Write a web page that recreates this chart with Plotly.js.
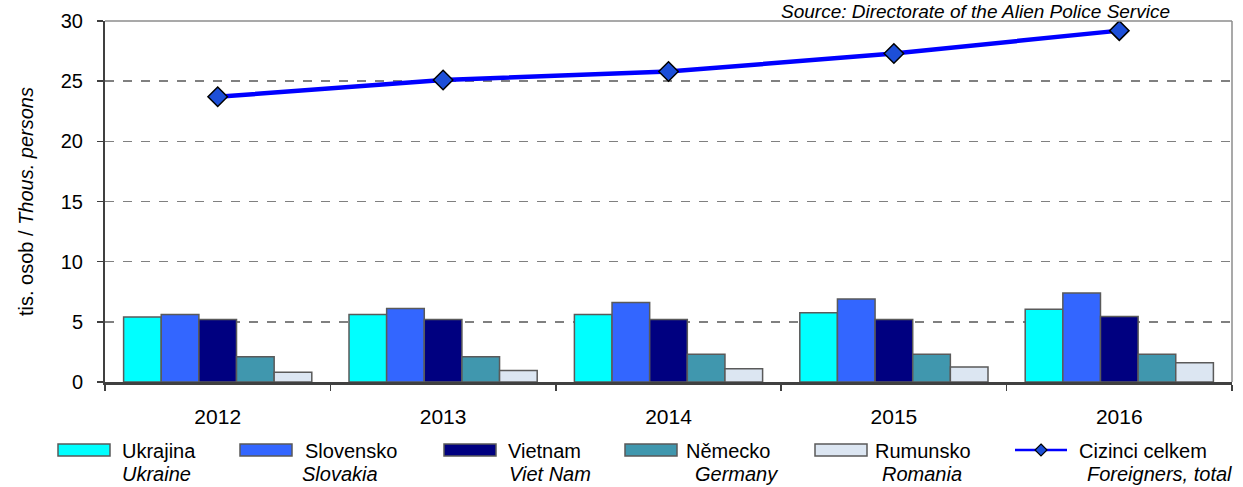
<!DOCTYPE html>
<html>
<head>
<meta charset="utf-8">
<script src="https://cdn.plot.ly/plotly-3.0.1.min.js"></script>
<style>
  html, body { margin: 0; padding: 0; background: #fff; }
  #chart { width: 1243px; height: 487px; }
</style>
</head>
<body>
<div id="chart"></div>
<script>
// years on the x axis
const years = ['2012', '2013', '2014', '2015', '2016'];

// thousands of persons
const ukrajina = [5.4, 5.6, 5.6, 5.75, 6.05];
const slovensko = [5.6, 6.1, 6.6, 6.9, 7.4];
const vietnam = [5.2, 5.2, 5.2, 5.2, 5.45];
const nemecko = [2.1, 2.1, 2.3, 2.3, 2.3];
const rumunsko = [0.8, 0.95, 1.1, 1.25, 1.6];
const celkem = [23.7, 25.1, 25.8, 27.3, 29.2];

const namesCz = ['Ukrajina', 'Slovensko', 'Vietnam', 'Německo', 'Rumunsko', 'Cizinci celkem'];
const namesEn = ['Ukraine', 'Slovakia', 'Viet Nam', 'Germany', 'Romania', 'Foreigners, total'];
const barColors = ['#00ffff', '#3366ff', '#000080', '#4097ae', '#dce6f2'];
const yTicks = [0, 5, 10, 15, 20, 25, 30];

const FONT = 'Liberation Sans, Arial, sans-serif';
const plotLeft = 105, plotWidth = 1127, plotBottom = 382, plotHeight = 361;
const px = v => (v - plotLeft) / plotWidth;
const py = v => (plotBottom - v) / plotHeight;

const barSeries = [ukrajina, slovensko, vietnam, nemecko, rumunsko];

const traces = barSeries.map((vals, i) => ({
  type: 'bar',
  x: years,
  y: vals,
  name: namesCz[i],
  marker: { color: barColors[i], line: { color: '#5a5a5a', width: 1.5 } },
  hoverinfo: 'y'
}));

traces.push({
  type: 'scatter',
  mode: 'lines+markers',
  x: years,
  y: celkem,
  name: namesCz[5],
  line: { color: '#0000ff', width: 4.5 },
  marker: { symbol: 'diamond', size: 15, color: '#1d4fd8', line: { color: '#000000', width: 1.5 } },
  hoverinfo: 'y'
});

// legend drawn by hand below the axis (pixel spots from the reference)
const swatchX = [58, 240, 444, 625, 815, 1015];
const swatchW = 52;
const textX1 = [120, 303, 506, 684, 873, 1077];
const textX2 = [120, 300, 507, 693, 880, 1085];

const shapes = [
  { type: 'line', xref: 'paper', yref: 'paper', x0: 0, x1: 1, y0: 1, y1: 1, line: { color: '#8c8c8c', width: 1.5 } },
  { type: 'line', xref: 'paper', yref: 'paper', x0: 1, x1: 1, y0: 0, y1: 1, line: { color: '#8c8c8c', width: 1.5 } }
];
const annotations = [
  {
    text: '<i>Source: Directorate of the Alien Police Service</i>',
    xref: 'paper', yref: 'paper',
    x: px(1172), y: py(11),
    xanchor: 'right', yanchor: 'middle',
    showarrow: false,
    font: { family: FONT, size: 19, color: '#000' }
  }
];

namesCz.forEach((nm, i) => {
  if (i < 5) {
    shapes.push({
      type: 'rect', xref: 'paper', yref: 'paper',
      x0: px(swatchX[i]), x1: px(swatchX[i] + swatchW),
      y0: py(456), y1: py(444),
      fillcolor: barColors[i],
      line: { color: '#5a5a5a', width: 1.5 }
    });
  } else {
    shapes.push({
      type: 'line', xref: 'paper', yref: 'paper',
      x0: px(swatchX[i]), x1: px(swatchX[i] + swatchW),
      y0: py(450), y1: py(450),
      line: { color: '#0000ff', width: 2.5 }
    });
    const cx = swatchX[i] + swatchW / 2, cy = 450, r = 6;
    shapes.push({
      type: 'path', xref: 'paper', yref: 'paper',
      path: 'M ' + px(cx) + ' ' + py(cy - r) + ' L ' + px(cx + r) + ' ' + py(cy) +
            ' L ' + px(cx) + ' ' + py(cy + r) + ' L ' + px(cx - r) + ' ' + py(cy) + ' Z',
      fillcolor: '#1d4fd8',
      line: { color: '#000', width: 1.2 }
    });
  }
  annotations.push({
    text: nm, xref: 'paper', yref: 'paper',
    x: px(textX1[i]), y: py(451), xanchor: 'left', yanchor: 'middle',
    showarrow: false, font: { family: FONT, size: 20, color: '#000' }
  });
  annotations.push({
    text: '<i>' + namesEn[i] + '</i>', xref: 'paper', yref: 'paper',
    x: px(textX2[i]), y: py(474), xanchor: 'left', yanchor: 'middle',
    showarrow: false, font: { family: FONT, size: 20, color: '#000' }
  });
});

const layout = {
  width: 1243,
  height: 487,
  margin: { l: 105, r: 11, t: 21, b: 105, autoexpand: false },
  paper_bgcolor: '#ffffff',
  plot_bgcolor: '#ffffff',
  font: { family: FONT, color: '#000' },
  barmode: 'group',
  bargap: 0.165,
  bargroupgap: 0,
  showlegend: false,
  xaxis: {
    type: 'category',
    tickson: 'boundaries',
    ticks: 'outside',
    ticklen: 6,
    tickwidth: 1.5,
    tickcolor: '#404040',
    showline: true,
    linecolor: '#404040',
    linewidth: 3,
    showgrid: false,
    tickfont: { family: FONT, size: 21, color: '#000' },
    ticklabelstandoff: 14
  },
  yaxis: {
    range: [0, 30],
    tickvals: yTicks,
    ticks: 'outside',
    ticklen: 6,
    tickwidth: 1.5,
    tickcolor: '#404040',
    showline: true,
    linecolor: '#404040',
    linewidth: 2,
    showgrid: true,
    gridcolor: '#808080',
    gridwidth: 1.5,
    griddash: 'dash',
    zeroline: false,
    tickfont: { family: FONT, size: 20, color: '#000' },
    ticklabelstandoff: 10,
    title: {
      text: 'tis. osob / <i>Thous. persons</i>',
      font: { family: FONT, size: 20, color: '#000' },
      standoff: 22
    }
  },
  shapes: shapes,
  annotations: annotations
};

Plotly.newPlot('chart', traces, layout, { displayModeBar: false, staticPlot: true });
</script>
</body>
</html>
